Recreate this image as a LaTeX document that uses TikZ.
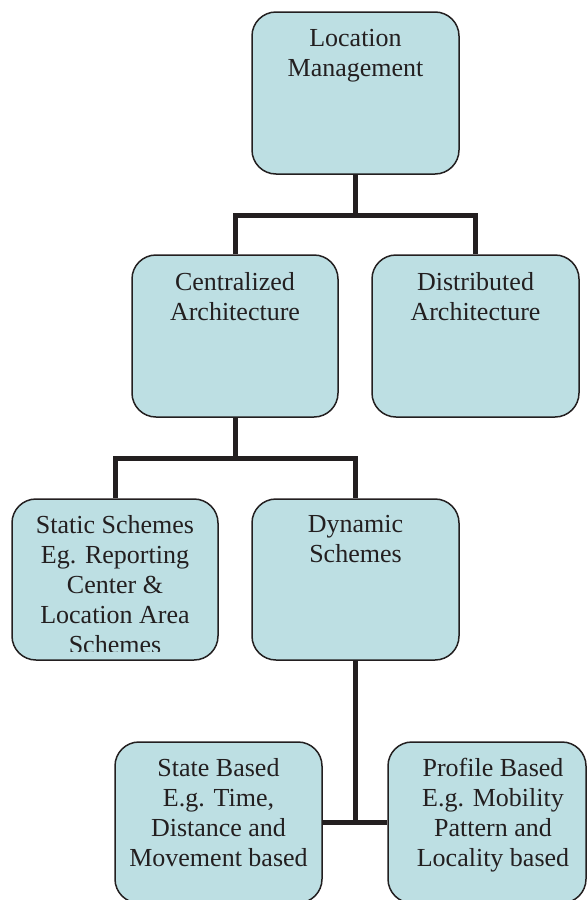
\documentclass[tikz,border=0pt]{standalone}
\usepackage{fontspec}
\setmainfont{Liberation Serif}
\definecolor{boxfill}{RGB}{189,223,227}
\definecolor{boxline}{RGB}{35,31,32}
\begin{document}
\begin{tikzpicture}[x=1pt,y=-1pt,
  box/.style={draw=boxline, line width=1.5pt, fill=boxfill, rounded corners=24pt, inner sep=0pt},
  lbl/.style={font=\fontsize{26}{30}\selectfont, align=center, anchor=north, inner sep=0pt, text=boxline},
  conn/.style={line width=5pt, draw=boxline}]
\useasboundingbox (0,0) rectangle (588,900);
% boxes
\node[box, minimum width=207pt, minimum height=162pt] (lm) at (355.5,93) {};
\node[box, minimum width=206pt, minimum height=162pt] (ca) at (235,336) {};
\node[box, minimum width=207pt, minimum height=162pt] (da) at (475.5,336) {};
\node[box, minimum width=206pt, minimum height=161pt] (ss) at (115,579.5) {};
\node[box, minimum width=207pt, minimum height=161pt] (ds) at (355.5,579.5) {};
\node[box, minimum width=207pt, minimum height=161pt] (sb) at (218.5,822.5) {};
\node[box, minimum width=198pt, minimum height=161pt] (pb) at (487,822.5) {};
% texts
\node[lbl] (tlm) at (355.5,29) {Location\\Management};
\node[lbl] (tca) at (235,272) {Centralized\\Architecture};
\node[lbl] (tda) at (475.5,272) {Distributed\\Architecture};
\begin{scope}
\clip (12,499) rectangle (218,651);
\node[lbl] (tss) at (115,515) {Static Schemes\\Eg. Reporting\\Center \&\\Location Area\\Schemes};
\end{scope}
\node[lbl] (tds) at (355.5,515) {Dynamic\\Schemes};
\node[lbl] (tsb) at (218.5,758) {State Based\\E.g. Time,\\Distance and\\Movement based};
\node[lbl] (tpb) at (493,758) {Profile Based\\E.g. Mobility\\Pattern and\\Locality based};
% connectors
\coordinate (j1) at (355.5,215);
\coordinate (j2) at (235,458);
\coordinate (j3) at (355.5,822.5);
\draw[conn] (lm.south) -- (j1);
\draw[conn] (ca.north) |- (j1) -| (da.north);
\draw[conn] (ca.south) -- (j2);
\draw[conn] (ss.north) |- (j2) -| (ds.north);
\draw[conn] (ds.south) -- (j3);
\draw[conn] (sb.east) -- (pb.west);
\end{tikzpicture}
\end{document}
